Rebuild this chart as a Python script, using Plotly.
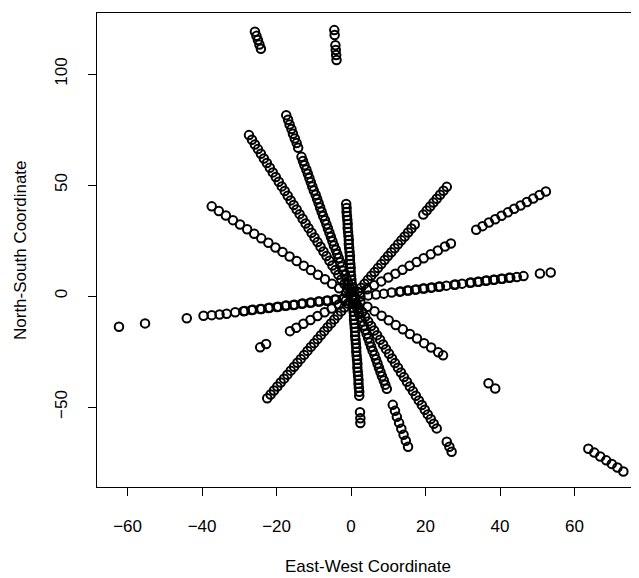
import plotly.graph_objects as go

# ---- data (one list pair per slit / ray) ----
ray1_x = [-4.5, -4.4, -4.2, -4.1, -4.0, -3.9,
          -1.3, -1.2, -1.2, -1.1, -1.0, -0.9, -0.9, -0.8, -0.7, -0.6,
          -0.6, -0.5, -0.4, -0.3, -0.3, -0.2, -0.1, -0.1, 0.0, 0.1,
          0.2, 0.3, 0.3, 0.4, 0.5, 0.5, 0.6, 0.7, 0.8, 0.8,
          0.9, 1.0, 1.1, 1.1, 1.2, 1.3, 1.4, 1.4, 1.5, 1.6,
          1.7, 1.7, 1.8, 1.9, 2.0, 2.0, 2.1, 2.2, 2.2,
          2.4, 2.5, 2.5]
ray1_y = [119.8, 117.6, 113.0, 110.8, 108.6, 106.3,
          41.5, 39.7, 37.9, 36.1, 34.3, 32.5, 30.7, 28.9, 27.1, 25.3,
          23.5, 21.7, 19.9, 18.1, 16.3, 14.5, 12.7, 10.9, 9.1, 7.3,
          5.5, 3.7, 1.9, 0.1, -1.7, -3.5, -5.3, -7.1, -8.9, -10.7,
          -12.5, -14.3, -16.1, -17.9, -19.7, -21.5, -23.3, -25.1, -26.9, -28.7,
          -30.5, -32.3, -34.1, -35.9, -37.7, -39.5, -41.3, -43.1, -44.9,
          -52.3, -55.0, -57.2]

ray2_x = [-25.8, -25.4, -25.0, -24.6, -24.2,
          -17.4, -16.9, -16.5, -16.0, -15.6, -15.1, -14.6, -14.2,
          -13.3, -12.9, -12.5, -12.0, -11.6, -11.2, -10.8, -10.4, -10.0, -9.5,
          -9.1, -8.7, -8.3, -7.9, -7.5, -7.0, -6.6, -6.2, -5.8, -5.4,
          -5.0, -4.6, -4.1, -3.7, -3.3, -2.9, -2.5, -2.1, -1.6, -1.2,
          -0.8, -0.4, 0.0, 0.4,
          0.9, 1.3, 1.7, 2.1, 2.5, 2.9, 3.4, 3.8, 4.2, 4.6,
          5.0, 5.4, 5.8, 6.3, 6.7, 7.1, 7.5, 7.9, 8.3, 8.8,
          9.2, 9.6,
          11.2, 11.8, 12.3, 12.9, 13.5, 14.1, 14.7, 15.3]
ray2_y = [119.1, 117.2, 115.3, 113.3, 111.4,
          81.5, 79.4, 77.3, 75.2, 73.1, 71.0, 68.9, 66.8,
          62.7, 60.8, 58.9, 57.0, 55.1, 53.2, 51.3, 49.4, 47.5, 45.6,
          43.7, 41.8, 39.9, 38.0, 36.1, 34.2, 32.3, 30.4, 28.5, 26.6,
          24.7, 22.8, 20.9, 19.0, 17.1, 15.2, 13.3, 11.4, 9.5, 7.6,
          5.7, 3.8, 1.9, 0.0,
          -1.9, -3.8, -5.7, -7.6, -9.5, -11.4, -13.3, -15.2, -17.1, -19.0,
          -20.9, -22.8, -24.7, -26.6, -28.5, -30.4, -32.3, -34.2, -36.1, -38.0,
          -39.9, -41.8,
          -49.0, -51.7, -54.4, -57.1, -59.8, -62.5, -65.2, -67.9]

ray3_x = [-27.4, -26.6, -25.8, -25.0, -24.2, -23.4, -22.6, -21.8, -21.0, -20.2,
          -19.4, -18.6, -17.8, -17.0, -16.2, -15.4, -14.6, -13.8, -13.0, -12.2,
          -11.4, -10.6, -9.8, -9.0, -8.2, -7.4, -6.6, -5.8, -5.0, -4.2,
          -3.4, -2.6, -1.8, -1.0, -0.2,
          0.6, 1.4, 2.2, 3.0, 3.8, 4.6, 5.4, 6.2, 7.0, 7.8,
          8.6, 9.4, 10.2, 11.0, 11.8, 12.6, 13.4, 14.2, 15.0, 15.8,
          16.6, 17.4, 18.2, 19.0, 19.8, 20.6, 21.4, 22.2, 23.0,
          25.7, 26.4, 27.0]
ray3_y = [72.5, 70.4, 68.3, 66.2, 64.1, 62.0, 59.9, 57.8, 55.7, 53.6,
          51.5, 49.4, 47.3, 45.2, 43.1, 41.0, 39.0, 36.9, 34.8, 32.7,
          30.6, 28.5, 26.4, 24.3, 22.2, 20.1, 18.0, 15.9, 13.8, 11.7,
          9.6, 7.5, 5.4, 3.3, 1.2,
          -0.9, -3.0, -5.1, -7.2, -9.3, -11.4, -13.5, -15.5, -17.6, -19.7,
          -21.8, -23.9, -26.0, -28.1, -30.2, -32.3, -34.4, -36.5, -38.6, -40.7,
          -42.8, -44.9, -47.0, -49.1, -51.2, -53.3, -55.4, -57.5, -59.6,
          -65.6, -67.9, -70.1]

ray4_x = [-37.4, -35.5, -33.6, -31.7, -29.8, -27.9, -26.0, -24.1, -22.2, -20.3,
          -18.4, -16.5, -14.6, -12.7, -10.8, -8.9, -7.0, -5.1, -3.2, -1.3,
          0.6, 2.5, 4.4, 6.3, 8.2, 10.1, 12.0, 13.9, 15.8, 17.7,
          19.6, 21.5, 23.4, 24.7,
          36.9, 38.7, 63.7, 65.3, 66.9, 68.5, 70.0, 71.5, 73.1]
ray4_y = [40.4, 38.3, 36.3, 34.2, 32.2, 30.1, 28.1, 26.0, 24.0, 21.9,
          19.9, 17.8, 15.8, 13.7, 11.7, 9.6, 7.6, 5.5, 3.5, 1.4,
          -0.6, -2.7, -4.8, -6.8, -8.9, -10.9, -13.0, -15.0, -17.1, -19.1,
          -21.2, -23.2, -25.3, -26.7,
          -39.3, -41.6, -68.8, -70.5, -72.3, -74.0, -75.6, -77.2, -79.0]

ray5_x = [-62.3, -55.3, -44.1, -39.6, -37.4, -35.3, -33.4, -31.1,
          -28.9, -28.55, -26.7, -26.35, -24.4, -24.05, -22.2, -21.85, -19.9, -19.55,
          -17.7, -17.35, -15.5, -15.15, -13.3, -12.95, -11.0, -10.65, -8.8, -8.45,
          -6.6, -6.25, -4.4, -4.05, -2.2, -1.85, 0.2,
          2.5, 4.6, 6.7, 8.8, 10.9, 13.0, 13.35, 15.1, 15.45, 17.2,
          17.55, 19.3, 19.65, 21.4, 21.75, 23.5, 23.85, 25.6, 27.7, 28.05,
          29.8, 31.9, 32.25, 34.0, 34.35, 36.1, 36.45, 38.2, 38.55, 40.3,
          40.65, 42.4, 42.75, 44.5, 46.3,
          50.7, 53.6]
ray5_y = [-13.8, -12.3, -10.0, -8.9, -8.6, -8.3, -8.0, -7.3,
          -6.8, -6.7, -6.3, -6.2, -5.8, -5.8, -5.4, -5.3, -4.9, -4.8,
          -4.4, -4.3, -4.0, -3.9, -3.5, -3.4, -3.0, -2.9, -2.5, -2.5,
          -2.1, -2.0, -1.6, -1.5, -1.2, -1.1, -0.7,
          -0.2, 0.3, 0.7, 1.1, 1.6, 2.0, 2.1, 2.5, 2.5, 2.9,
          3.0, 3.4, 3.4, 3.8, 3.9, 4.2, 4.3, 4.7, 5.1, 5.2,
          5.6, 6.0, 6.1, 6.4, 6.5, 6.9, 7.0, 7.3, 7.4, 7.8,
          7.8, 8.2, 8.3, 8.6, 9.0,
          10.2, 10.6]

ray6_x = [-24.4, -22.8,
          -16.4, -14.7, -12.8, -10.9, -9.0, -7.1, -5.2, -3.3, -1.4,
          2.4, 4.3, 6.2, 8.1, 10.0, 11.9, 13.8, 15.7, 17.6, 19.5,
          21.4, 23.3, 25.2, 26.8,
          33.6, 35.3, 37.0, 38.7, 40.4, 42.1, 43.8, 45.5, 47.2, 48.9,
          50.6, 52.3]
ray6_y = [-23.1, -21.6,
          -15.8, -14.3, -12.5, -10.8, -9.0, -7.3, -5.6, -3.8, -2.1,
          1.4, 3.1, 4.9, 6.6, 8.4, 10.1, 11.8, 13.6, 15.3, 17.0,
          18.8, 20.5, 22.3, 23.7,
          29.9, 31.5, 33.1, 34.6, 36.2, 37.7, 39.3, 40.8, 42.4, 43.9,
          45.5, 47.1]

ray7_x = [-22.5, -21.6, -20.7, -19.8, -18.9, -18.0, -17.1, -16.2, -15.3, -14.4,
          -13.5, -12.6, -11.7, -10.8, -9.9, -9.0, -8.1, -7.2, -6.3, -5.4,
          -4.5, -3.6, -2.7, -1.8, -0.9,
          0.9, 1.8, 2.7, 3.6, 4.5, 5.4, 6.3, 7.2, 8.1, 9.0,
          9.9, 10.8, 11.7, 12.6, 13.5, 14.4, 15.3, 16.2, 17.1,
          19.4, 20.3, 21.2, 22.1, 23.0, 23.9, 24.8, 25.7]
ray7_y = [-46.0, -44.3, -42.5, -40.7, -38.9, -37.2, -35.4, -33.6, -31.8, -30.0,
          -28.3, -26.5, -24.7, -22.9, -21.2, -19.4, -17.6, -15.8, -14.0, -12.3,
          -10.5, -8.7, -6.9, -5.2, -3.4,
          0.2, 2.0, 3.7, 5.5, 7.3, 9.1, 10.8, 12.6, 14.4, 16.2,
          18.0, 19.7, 21.5, 23.3, 25.1, 26.8, 28.6, 30.4, 32.2,
          36.7, 38.5, 40.3, 42.1, 43.8, 45.6, 47.4, 49.2]

x_ticks = [-60, -40, -20, 0, 20, 40, 60]
y_ticks = [-50, 0, 50, 100]
x_title = "East-West Coordinate"
y_title = "North-South Coordinate"

rays = [(ray1_x, ray1_y), (ray2_x, ray2_y), (ray3_x, ray3_y), (ray4_x, ray4_y),
        (ray5_x, ray5_y), (ray6_x, ray6_y), (ray7_x, ray7_y)]
for i, (xs, ys) in enumerate(rays):
    if len(xs) != len(ys):
        raise ValueError(f"ray {i+1}: {len(xs)} x vs {len(ys)} y")

FONT = "Liberation Sans, Arial, sans-serif"

fig = go.Figure()
for xs, ys in rays:
    fig.add_trace(go.Scatter(
        x=xs, y=ys, mode="markers", showlegend=False, hoverinfo="skip",
        marker=dict(symbol="circle-open", size=8.5, color="black",
                    line=dict(width=2.0, color="black")),
    ))

axis_common = dict(showgrid=False, zeroline=False, showline=True,
                   linecolor="black", linewidth=1, ticks="outside",
                   ticklen=8, tickwidth=1, tickcolor="black", automargin=False,
                   tickfont=dict(family=FONT, size=17, color="black"))

# The page body adds an 8 px offset; margins compensate for it.
fig.update_layout(
    width=639, height=578,
    margin=dict(l=89, r=0, t=5, b=99, autoexpand=False),
    paper_bgcolor="white", plot_bgcolor="white",
    font=dict(family=FONT, size=17, color="black"),
    xaxis=dict(range=[-68.2, 79.45], tickvals=x_ticks, mirror=True,
               ticklabelstandoff=16, **axis_common),
    yaxis=dict(range=[-86.0, 127.5], tickvals=y_ticks, tickangle=-90,
               ticklabelstandoff=14, **axis_common),
    annotations=[
        dict(text=x_title, xref="paper", yref="paper", x=0.5, y=0,
             xanchor="center", yanchor="middle", yshift=-79, xshift=-4,
             showarrow=False, font=dict(family=FONT, size=17, color="black")),
        dict(text=y_title, xref="paper", yref="paper", x=0, y=0.5,
             xanchor="center", yanchor="middle", xshift=-77, textangle=-90,
             showarrow=False, font=dict(family=FONT, size=17, color="black")),
    ],
)

fig.write_html("out.html")
